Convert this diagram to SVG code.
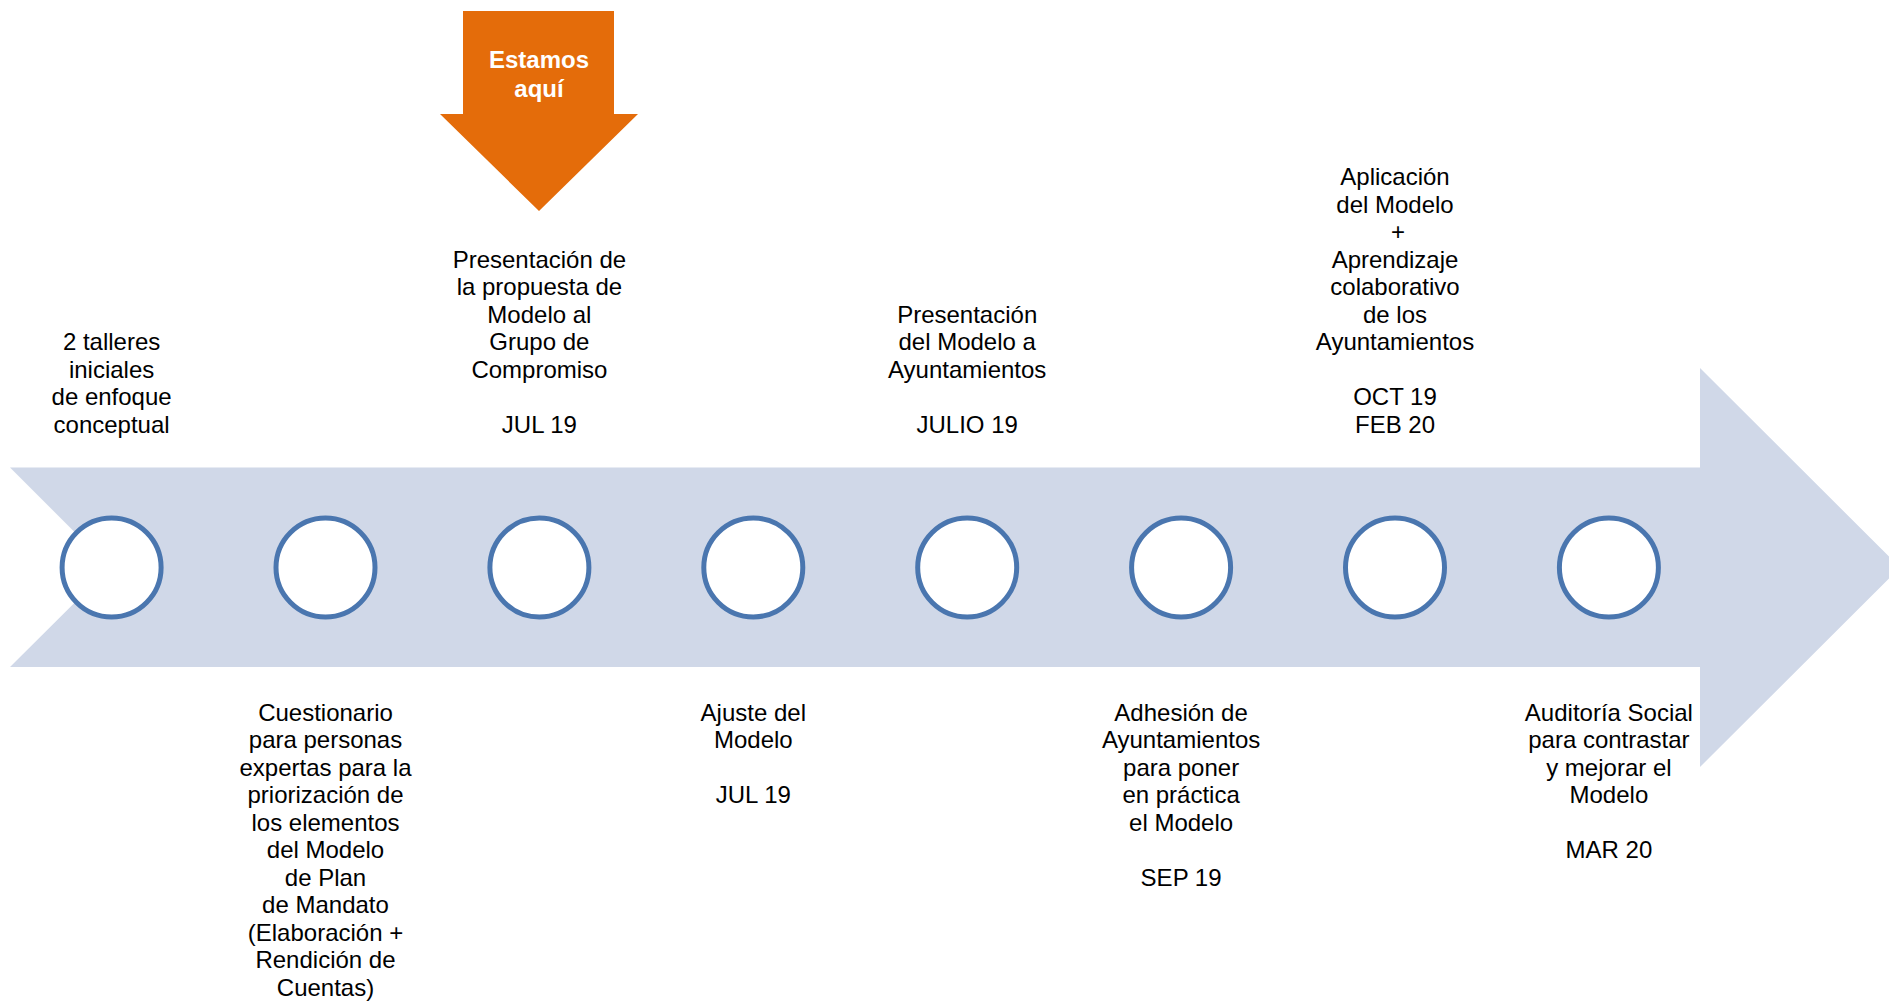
<svg xmlns="http://www.w3.org/2000/svg" width="1889" height="1001" viewBox="0 0 1889 1001">
<style>
.lbl{font-family:"Liberation Sans",Arial,sans-serif;font-size:24px;fill:#000;text-anchor:middle}
.here{font-family:"Liberation Sans",Arial,sans-serif;font-size:24px;font-weight:bold;fill:#fff;text-anchor:middle}
.dot{fill:#fff;stroke:#4A76AF;stroke-width:5}
</style>
<rect width="1889" height="1001" fill="#fff"/>
<g id="connectors">
<polygon id="timeline" points="10,467.5 1700,467.5 1700,368 1900,567.5 1700,767 1700,667 10,667 110,567.5" fill="#D0D8E8"/>
</g>
<g id="estamos-aqui">
<polygon points="463,11 614,11 614,114 638,114 539,211 440,114 463,114" fill="#E46C0A"/>
<text class="here" x="539" y="68">Estamos</text>
<text class="here" x="539" y="97">aquí</text>
</g>
<g id="n1">
<circle class="dot" cx="111.6" cy="567.5" r="49.5"/>
<text class="lbl" x="111.6" y="350.3"><tspan x="111.6">2 talleres</tspan><tspan x="111.6" dy="27.5">iniciales</tspan><tspan x="111.6" dy="27.5">de enfoque</tspan><tspan x="111.6" dy="27.5">conceptual</tspan></text>
</g>
<g id="n2">
<circle class="dot" cx="325.5" cy="567.5" r="49.5"/>
<text class="lbl" x="325.5" y="720.5"><tspan x="325.5">Cuestionario</tspan><tspan x="325.5" dy="27.5">para personas</tspan><tspan x="325.5" dy="27.5">expertas para la</tspan><tspan x="325.5" dy="27.5">priorización de</tspan><tspan x="325.5" dy="27.5">los elementos</tspan><tspan x="325.5" dy="27.5">del Modelo</tspan><tspan x="325.5" dy="27.5">de Plan</tspan><tspan x="325.5" dy="27.5">de Mandato</tspan><tspan x="325.5" dy="27.5">(Elaboración +</tspan><tspan x="325.5" dy="27.5">Rendición de</tspan><tspan x="325.5" dy="27.5">Cuentas)</tspan></text>
</g>
<g id="n3">
<circle class="dot" cx="539.4" cy="567.5" r="49.5"/>
<text class="lbl" x="539.4" y="267.8"><tspan x="539.4">Presentación de</tspan><tspan x="539.4" dy="27.5">la propuesta de</tspan><tspan x="539.4" dy="27.5">Modelo al</tspan><tspan x="539.4" dy="27.5">Grupo de</tspan><tspan x="539.4" dy="27.5">Compromiso</tspan><tspan x="539.4" dy="55">JUL 19</tspan></text>
</g>
<g id="n4">
<circle class="dot" cx="753.3" cy="567.5" r="49.5"/>
<text class="lbl" x="753.3" y="720.5"><tspan x="753.3">Ajuste del</tspan><tspan x="753.3" dy="27.5">Modelo</tspan><tspan x="753.3" dy="55">JUL 19</tspan></text>
</g>
<g id="n5">
<circle class="dot" cx="967.2" cy="567.5" r="49.5"/>
<text class="lbl" x="967.2" y="322.8"><tspan x="967.2">Presentación</tspan><tspan x="967.2" dy="27.5">del Modelo a</tspan><tspan x="967.2" dy="27.5">Ayuntamientos</tspan><tspan x="967.2" dy="55">JULIO 19</tspan></text>
</g>
<g id="n6">
<circle class="dot" cx="1181.1" cy="567.5" r="49.5"/>
<text class="lbl" x="1181.1" y="720.5"><tspan x="1181.1">Adhesión de</tspan><tspan x="1181.1" dy="27.5">Ayuntamientos</tspan><tspan x="1181.1" dy="27.5">para poner</tspan><tspan x="1181.1" dy="27.5">en práctica</tspan><tspan x="1181.1" dy="27.5">el Modelo</tspan><tspan x="1181.1" dy="55">SEP 19</tspan></text>
</g>
<g id="n7">
<circle class="dot" cx="1395" cy="567.5" r="49.5"/>
<text class="lbl" x="1395" y="185.3"><tspan x="1395">Aplicación</tspan><tspan x="1395" dy="27.5">del Modelo</tspan><tspan x="1398" dy="27.5">+</tspan><tspan x="1395" dy="27.5">Aprendizaje</tspan><tspan x="1395" dy="27.5">colaborativo</tspan><tspan x="1395" dy="27.5">de los</tspan><tspan x="1395" dy="27.5">Ayuntamientos</tspan><tspan x="1395" dy="55">OCT 19</tspan><tspan x="1395" dy="27.5">FEB 20</tspan></text>
</g>
<g id="n8">
<circle class="dot" cx="1608.9" cy="567.5" r="49.5"/>
<text class="lbl" x="1608.9" y="720.5"><tspan x="1608.9">Auditoría Social</tspan><tspan x="1608.9" dy="27.5">para contrastar</tspan><tspan x="1608.9" dy="27.5">y mejorar el</tspan><tspan x="1608.9" dy="27.5">Modelo</tspan><tspan x="1608.9" dy="55">MAR 20</tspan></text>
</g>
</svg>
